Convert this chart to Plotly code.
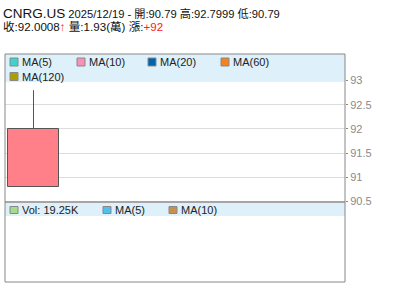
import plotly.graph_objects as go

# ---- data ----
symbol = "CNRG.US"
dates = ["2025/12/19"]
opens = [90.79]
highs = [92.7999]
lows = [90.79]
closes = [92.0008]
vol_wan = ["1.93"]
vol_k = ["19.25K"]
change = ["+92"]
price_ticks = [90.5, 91, 91.5, 92, 92.5, 93]
price_tick_labels = ["90.5", "91", "91.5", "92", "92.5", "93"]
ma_names = ["MA(5)", "MA(10)", "MA(20)", "MA(60)", "MA(120)"]
ma_colors = ["#3fd2ce", "#f890b8", "#0062b0", "#f58220", "#aca000"]
vol_legend_names = ["Vol: " + vol_k[0], "MA(5)", "MA(10)"]
vol_legend_colors = ["#a6dc8c", "#52c0ee", "#c89050"]

FONT = "Arial, 'Liberation Sans', 'Noto Sans CJK TC', sans-serif"
W, H = 400, 301
L, R, T, B = 5, 55, 54, 19
PW, PH = W - L - R, H - T - B


def px(x):
    return (x - L) / PW


def py(y):
    return (H - B - y) / PH


split = py(202)

fig = go.Figure()
xs = list(range(len(dates)))
fig.add_trace(go.Bar(
    x=xs, base=opens, y=[c - o for c, o in zip(closes, opens)], width=0.9,
    marker=dict(color="#ff8088", line=dict(color="#555555", width=1)),
    xaxis="x", yaxis="y", showlegend=False, hoverinfo="skip"))
for i in xs:
    fig.add_trace(go.Scatter(
        x=[i, i], y=[max(opens[i], closes[i]), highs[i]], mode="lines",
        line=dict(color="#555555", width=1), xaxis="x", yaxis="y",
        showlegend=False, hoverinfo="skip"))
    fig.add_trace(go.Scatter(
        x=[i, i], y=[lows[i], min(opens[i], closes[i])], mode="lines",
        line=dict(color="#555555", width=1), xaxis="x", yaxis="y",
        showlegend=False, hoverinfo="skip"))

xr = [-0.509, 5.562]
fig.update_layout(
    width=W, height=H, margin=dict(l=L, r=R, t=T, b=B),
    paper_bgcolor="white", plot_bgcolor="white",
    font=dict(family=FONT, size=11, color="#222222"),
    xaxis=dict(domain=[0, 1], range=xr, visible=False, anchor="y"),
    xaxis2=dict(domain=[0, 1], range=xr, visible=False, anchor="y2"),
    yaxis=dict(domain=[split, 1], range=[90.4897, 93.547], side="right",
               tickvals=price_ticks, ticktext=price_tick_labels,
               ticks="outside", ticklen=2, tickcolor="#888888",
               tickfont=dict(size=11, color="#8a8a8a", family=FONT),
               showgrid=True, gridcolor="#dddddd", gridwidth=1,
               zeroline=False, showline=False, anchor="x"),
    yaxis2=dict(domain=[0, split], range=[0, 1], visible=False, anchor="x2"),
    bargap=0,
)

shapes = []
# legend strips
shapes.append(dict(type="rect", xref="paper", yref="paper", x0=0, x1=1,
                   y0=py(82), y1=1, fillcolor="#def0fa", line=dict(width=0), layer="above"))
shapes.append(dict(type="rect", xref="paper", yref="paper", x0=0, x1=1,
                   y0=py(216), y1=py(203), fillcolor="#def0fa", line=dict(width=0), layer="above"))
# frames
shapes.append(dict(type="rect", xref="paper", yref="paper", x0=0, x1=1,
                   y0=split, y1=1, line=dict(color="#888888", width=1), layer="above"))
shapes.append(dict(type="rect", xref="paper", yref="paper", x0=0, x1=1,
                   y0=0, y1=split, line=dict(color="#888888", width=1), layer="above"))

annotations = []
# MA legend
ma_pos = [(10, 62), (77, 62), (148, 62), (221, 62), (10, 76.5)]
for (sx, sy), name, col in zip(ma_pos, ma_names, ma_colors):
    shapes.append(dict(type="rect", xref="paper", yref="paper",
                       x0=px(sx), x1=px(sx + 8), y0=py(sy + 4), y1=py(sy - 4),
                       fillcolor=col, line=dict(color="#888888", width=1), layer="above"))
    annotations.append(dict(xref="paper", yref="paper", x=px(sx + 10), y=py(sy),
                            xanchor="left", yanchor="middle", showarrow=False,
                            text=name, font=dict(size=11, color="#222222")))
vol_pos = [(10, 210), (103, 210), (169, 210)]
for (sx, sy), name, col in zip(vol_pos, vol_legend_names, vol_legend_colors):
    shapes.append(dict(type="rect", xref="paper", yref="paper",
                       x0=px(sx), x1=px(sx + 8), y0=py(sy + 3.5), y1=py(sy - 3.5),
                       fillcolor=col, line=dict(color="#888888", width=1), layer="above"))
    annotations.append(dict(xref="paper", yref="paper", x=px(sx + 10), y=py(sy),
                            xanchor="left", yanchor="middle", showarrow=False,
                            text=name, font=dict(size=11, color="#222222")))

# header
line1 = (f"<span style='font-size:13.5px'>{symbol}</span> {dates[0]} - 開:{opens[0]:g} "
         f"高:{highs[0]:g} 低:{lows[0]:g}")
arrow = "↑" if closes[0] >= opens[0] else "↓"
line2 = (f"收:{closes[0]:g}<span style='color:#ff2020'><b>{arrow}</b></span> 量:{vol_wan[0]}(萬) "
         f"漲:<span style='color:#ff2020'>{change[0]}</span>")
annotations.append(dict(xref="paper", yref="paper", x=px(1), y=py(13), xanchor="left",
                        yanchor="middle", showarrow=False, text=line1,
                        font=dict(size=11.2, color="#111111")))
annotations.append(dict(xref="paper", yref="paper", x=px(1), y=py(26), xanchor="left",
                        yanchor="middle", showarrow=False, text=line2,
                        font=dict(size=11.6, color="#111111")))

fig.update_layout(shapes=shapes, annotations=annotations)
fig.write_html("out.html")
